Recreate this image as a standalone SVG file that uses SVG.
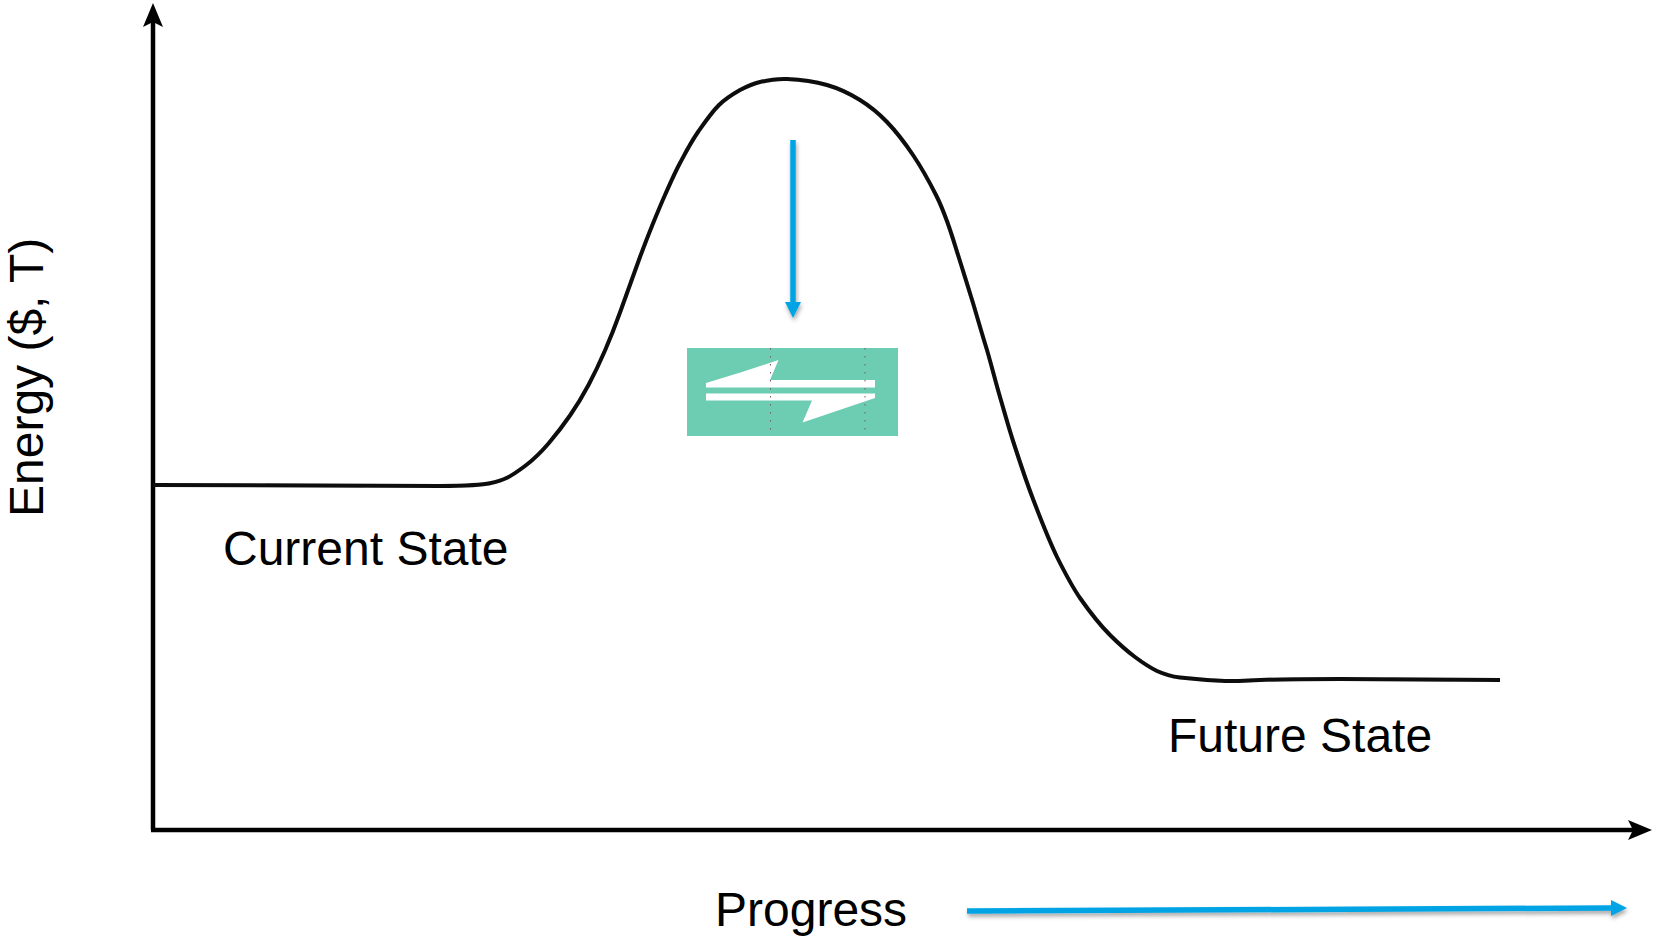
<svg xmlns="http://www.w3.org/2000/svg" width="1653" height="937" viewBox="0 0 1653 937">
<style>
text{font-family:"Liberation Sans",Arial,sans-serif;font-size:48px;fill:#000}
.ax{fill:none;stroke:#000;stroke-width:4.5}
.bl{fill:none;stroke:#00A4E4;stroke-width:5.5}
.w{fill:#fff}
.dot{stroke:#7c5a68;stroke-width:1;stroke-dasharray:1.5 6.5}
</style>
<defs>
<marker id="headK" markerUnits="userSpaceOnUse" markerWidth="30" markerHeight="24" refX="6" refY="12" orient="auto"><path d="M0 2 L24 12 L0 22 L5 12Z" fill="#000"/></marker>
<marker id="headB" markerUnits="userSpaceOnUse" markerWidth="20" markerHeight="20" refX="1" refY="9" orient="auto"><path d="M0 1 L16 9 L0 17Z" fill="#00A4E4"/></marker>
<filter id="sh" x="-20%" y="-20%" width="140%" height="140%"><feDropShadow dx="1" dy="3" stdDeviation="2.2" flood-color="#000" flood-opacity="0.35"/></filter>
<filter id="soft" x="-5%" y="-5%" width="110%" height="110%"><feGaussianBlur stdDeviation="0.6"/></filter>
</defs>
<g id="connectors">
<g filter="url(#soft)">
<path class="ax" d="M153 830 L153 21" marker-end="url(#headK)"/>
<path class="ax" d="M151 830 L1634 830" marker-end="url(#headK)"/>
<path id="curve" fill="none" stroke="#0a0a0a" stroke-width="4" stroke-linejoin="round" d="M153 485 L440 486 Q480 485.5 490 483.2 Q500 481 506.5 478 Q513 475 525 466 Q537 457 548.5 443.5 Q560 430 570 415.5 Q580 401 588.5 385 Q597 369 605 350.5 Q613 332 620 312.5 Q627 293 633.5 275 L640 257 C644.2 245.8 647.8 236.3 652 226 C656.2 215.7 660.3 205.5 665 195 C669.7 184.5 674.3 173.7 680 163 C685.7 152.3 691 142 698 132 C704 123.5 711 113 719 105 C726 98 733 94 740 90 C746.7 86.5 752.2 83.8 760 82 C767.8 80.2 775.8 78.5 787 79 C798.2 79.5 814.8 81.5 827 85 C839.2 88.5 850 93.8 860 100 C870 106.2 878.2 112.8 887 122 C895.8 131.2 904.8 142.8 913 155 C921.2 167.2 930.2 183.5 936 195 C941.8 206.5 944.2 213.5 948 224 C951.8 234.5 954.8 244.8 959 258 C963.2 271.2 969 290 973 303 C977.5 318 982 334 987 350 C991.5 365.5 995.5 381.5 1000 397 C1004.7 413 1009.5 430.5 1015 447 C1020.5 464 1026.5 482 1033 499 C1038 512 1047 536 1057 557 C1064 571 1071 585 1080 598 C1087 608 1100 625 1110 635 Q1123 648 1135 657 Q1147 666 1157 671 Q1168 676 1180 677.5 Q1203 680 1225 681 Q1240 681 1249 680.5 Q1273 679 1340 679 L1500 680"/>
</g>
<g filter="url(#sh)">
<path class="bl" d="M793 140 L793 303" marker-end="url(#headB)"/>
<path class="bl" d="M967 911 L1612 908" marker-end="url(#headB)"/>
</g>
</g>
<g id="equilibrium">
<rect x="687" y="348" width="211" height="88" fill="#6DCDB2"/>
<path class="w" d="M706 383 L742 372 L778.5 360 L770 380 L875 380 L875 387.5 L706 387.5Z"/>
<path class="w" d="M706 393.5 L875 393.5 L875 398 L802.5 422.5 L812 400.5 L706 400.5Z"/>
<path class="dot" d="M770.5 348 V436 M865 348 V436"/>
</g>
<g id="labels">
<text x="223" y="565">Current State</text>
<text x="1168" y="752">Future State</text>
<text x="715" y="926">Progress</text>
<text transform="translate(43 517) rotate(-90)">Energy ($, T)</text>
</g>
</svg>
